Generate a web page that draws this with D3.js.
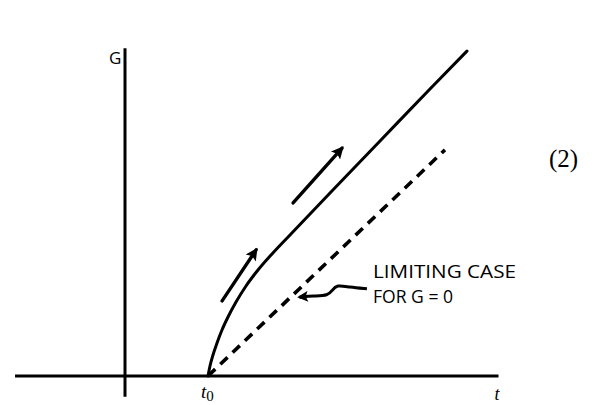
<!DOCTYPE html>
<html>
<head>
<meta charset="utf-8">
<script src="https://cdn.jsdelivr.net/npm/d3@7"></script>
<style>
  html, body { margin: 0; padding: 0; background: #fff; }
  svg { display: block; }
</style>
</head>
<body>
<div id="chart"></div>
<script>
// growth curve G(t) (t0 = 2)
const curveT = [2.000, 2.048, 2.120, 2.217, 2.337, 2.482, 2.675, 2.916, 3.205, 3.542, 3.976, 4.940, 6.145, 7.349, 8.241];
const curveG = [0, 0.241, 0.506, 0.795, 1.108, 1.422, 1.783, 2.169, 2.554, 2.940, 3.398, 4.410, 5.663, 6.916, 7.831];

// limiting case for G = 0 (dashed straight line)
const limitT = [2.0, 7.71];
const limitG = [0, 5.45];

// direction arrows beside the curve
const arrowLowT = [2.34, 3.16];
const arrowLowG = [1.81, 3.04];
const arrowHighT = [4.05, 5.23];
const arrowHighG = [4.17, 5.49];

// wavy pointer from the note to the dashed line
const pointerT = [5.83, 5.40, 5.10, 4.99, 4.90, 4.55, 4.20];
const pointerG = [2.10, 2.14, 2.20, 2.06, 1.94, 1.93, 1.90];

const axisT = [-2.65, 9.0];
const axisG = [-0.5, 7.9];
const t0Value = 2.0;

const noteLines = ['LIMITING CASE', 'FOR G = 0'];
const yLabel = 'G';
const xLabel = 't';
const eqLabel = '(2)';

const width = 604, height = 405;
const unit = 41.5;

const x = d3.scaleLinear().domain([0, 10]).range([125, 125 + 10 * unit]);
const y = d3.scaleLinear().domain([0, 10]).range([376, 376 - 10 * unit]);

const svg = d3.select('#chart')
    .append('svg')
    .attr('width', width)
    .attr('height', height);

svg.append('rect').attr('width', width).attr('height', height).attr('fill', '#fff');

const defs = svg.append('defs');
defs.append('marker')
    .attr('id', 'head')
    .attr('viewBox', '0 0 10 10')
    .attr('refX', 8)
    .attr('refY', 5)
    .attr('markerWidth', 4.4)
    .attr('markerHeight', 3.6)
    .attr('markerUnits', 'strokeWidth')
    .attr('orient', 'auto')
    .append('path')
    .attr('d', 'M0,0 L10,5 L0,10 L2,5 Z')
    .attr('fill', '#000');

const zip = (a, b) => a.map((v, i) => [v, b[i]]);
const line = d3.line().x(d => x(d[0])).y(d => y(d[1]));

// axes
svg.append('line')
    .attr('x1', x(axisT[0])).attr('x2', x(axisT[1]))
    .attr('y1', y(0)).attr('y2', y(0))
    .attr('stroke', '#000').attr('stroke-width', 3);
svg.append('line')
    .attr('x1', x(0)).attr('x2', x(0))
    .attr('y1', y(axisG[0])).attr('y2', y(axisG[1]))
    .attr('stroke', '#000').attr('stroke-width', 3);

// solid curve
svg.append('path')
    .datum(zip(curveT, curveG))
    .attr('d', line.curve(d3.curveMonotoneX))
    .attr('fill', 'none')
    .attr('stroke', '#000')
    .attr('stroke-width', 3)
    .attr('stroke-linecap', 'round');

// dashed limiting line
svg.append('path')
    .datum(zip(limitT, limitG))
    .attr('d', line.curve(d3.curveLinear))
    .attr('fill', 'none')
    .attr('stroke', '#000')
    .attr('stroke-width', 3.6)
    .attr('stroke-dasharray', '10,7');

// arrows
[[arrowLowT, arrowLowG], [arrowHighT, arrowHighG]].forEach(function(a) {
    svg.append('path')
        .datum(zip(a[0], a[1]))
        .attr('d', line.curve(d3.curveLinear))
        .attr('fill', 'none')
        .attr('stroke', '#000')
        .attr('stroke-width', 3.4)
        .attr('stroke-linecap', 'round')
        .attr('marker-end', 'url(#head)');
});

svg.append('path')
    .datum(zip(pointerT, pointerG))
    .attr('d', line.curve(d3.curveBasis))
    .attr('fill', 'none')
    .attr('stroke', '#000')
    .attr('stroke-width', 3)
    .attr('marker-end', 'url(#head)');

// labels
const sans = '"Open Sans", "DejaVu Sans", sans-serif';
const serif = '"Liberation Serif", "DejaVu Serif", serif';

svg.append('text')
    .attr('x', x(0) - 16).attr('y', y(axisG[1]) + 16)
    .attr('font-family', sans).attr('font-size', 17)
    .text(yLabel);

const t0 = svg.append('text')
    .attr('x', x(t0Value) - 7).attr('y', y(0) + 22)
    .attr('font-family', serif).attr('font-size', 19);
t0.append('tspan').attr('font-style', 'italic').text('t');
t0.append('tspan').attr('font-size', 15).attr('dy', 3).text('0');

svg.append('text')
    .attr('x', x(axisT[1]) - 4).attr('y', y(0) + 24)
    .attr('font-family', serif).attr('font-size', 18)
    .attr('font-style', 'italic')
    .text(xLabel);

svg.append('text')
    .attr('x', 549).attr('y', 167)
    .attr('font-family', serif).attr('font-size', 25)
    .text(eqLabel);

const noteWidths = [143, 80];
svg.selectAll('.note')
    .data(noteLines)
    .enter()
    .append('text')
    .attr('class', 'note')
    .attr('x', 373)
    .attr('y', (d, i) => 278 + i * 25)
    .attr('font-family', sans)
    .attr('font-size', 17.5)
    .attr('font-weight', 500)
    .attr('textLength', (d, i) => noteWidths[i])
    .attr('lengthAdjust', 'spacingAndGlyphs')
    .text(d => d);
</script>
</body>
</html>
